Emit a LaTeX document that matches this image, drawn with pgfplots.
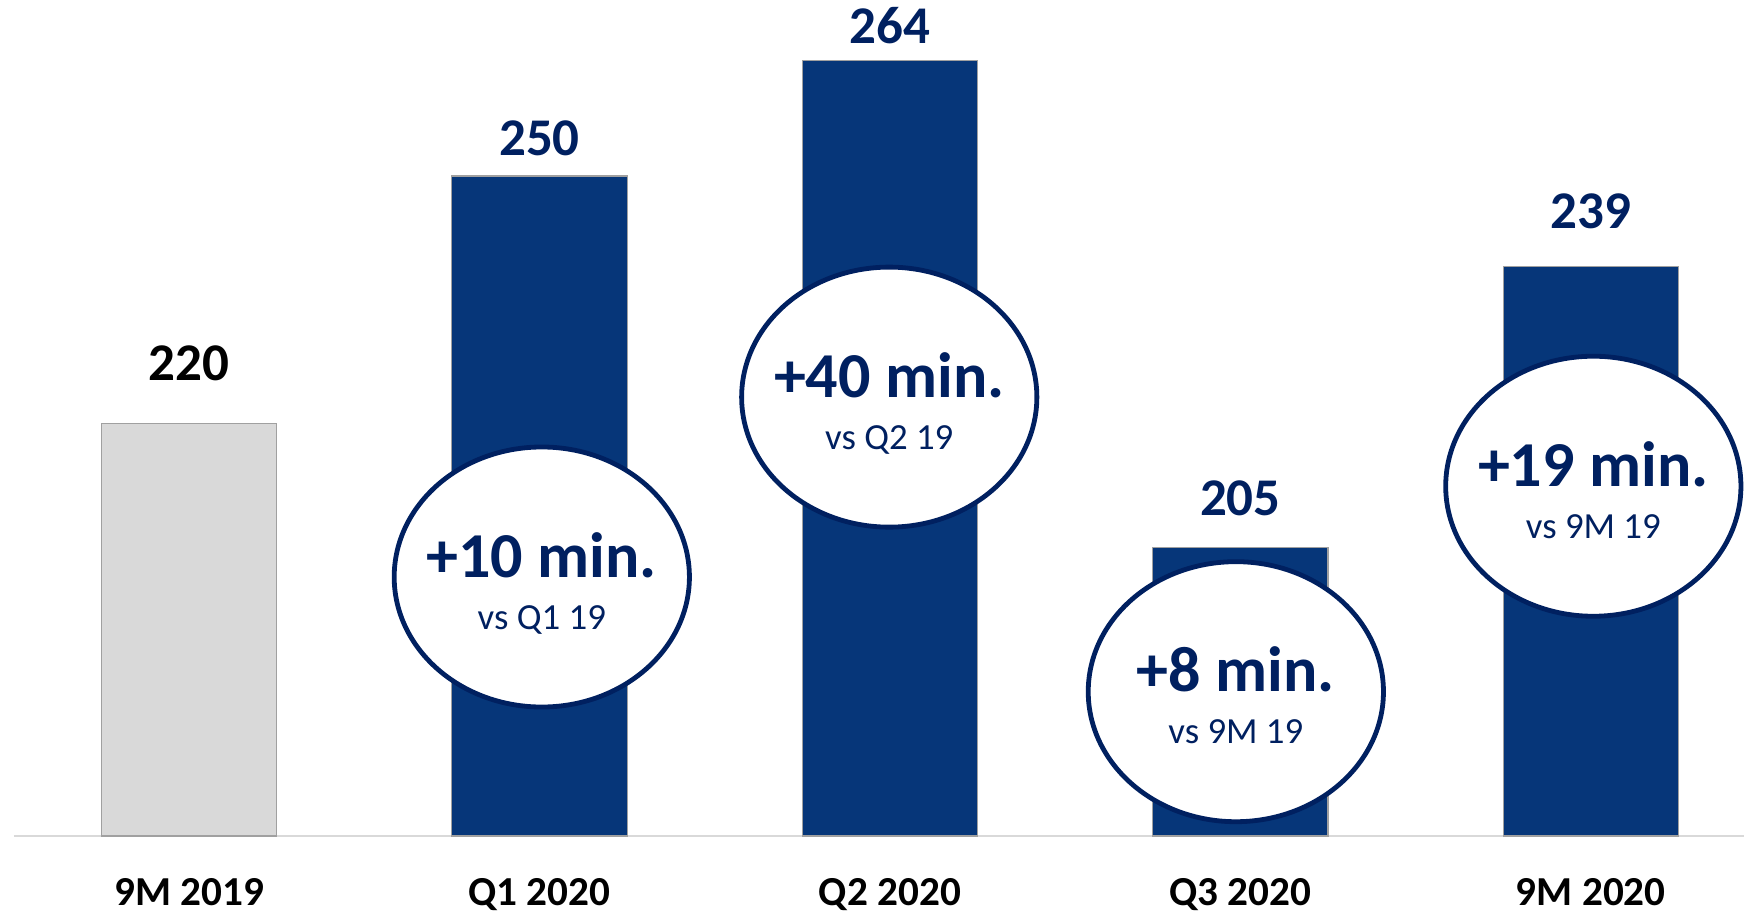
\documentclass[border=0pt]{standalone}
\usepackage{pgfplots}
\usepackage{pgfplotstable}
\pgfplotsset{compat=1.18}
\usepackage{fontspec}
\setmainfont{Carlito}
\definecolor{barnavy}{RGB}{6,54,121}
\definecolor{navytext}{RGB}{0,32,96}
\definecolor{bargray}{RGB}{217,217,217}
\definecolor{edgegray}{RGB}{160,160,160}
\definecolor{axisgray}{RGB}{217,217,217}

\pgfplotstableread{
x y gap
0 220 10.5
}\graydata
\pgfplotstableread{
x y gap
1 250 5
2 264 4
3 205 7.75
4 239 9.25
}\bluedata

\begin{document}
\begin{tikzpicture}
\begin{axis}[
  name=ax,
  scale only axis,
  width=432.5pt, height=209pt,
  xmin=-0.5, xmax=4.437,
  ymin=170, ymax=271.33,
  axis x line=bottom, axis y line=none,
  x axis line style={draw=axisgray, line width=0.55pt, -},
  xtick={0,1,2,3,4},
  xticklabels={9M 2019, Q1 2020, Q2 2020, Q3 2020, 9M 2020},
  major tick length=0pt,
  xticklabel style={font=\bfseries\fontsize{10.3}{12}\selectfont, text=black, anchor=base, yshift=-17.25pt, inner sep=0pt},
  ytick=\empty,
  /pgf/number format/assume math mode=true,
]
\addplot[ybar, bar shift=0pt, bar width=0.5, fill=bargray, draw=edgegray, line width=0.3pt,
  nodes near coords={\pgfmathprintnumber{\pgfplotspointmeta}},
  visualization depends on={\thisrow{gap}\as\gap},
  every node near coord/.append style={font=\bfseries\fontsize{13.25}{15}\selectfont, text=black, anchor=south, yshift=\gap pt, inner sep=0pt}]
  table[x=x, y=y] {\graydata};
\addplot[ybar, bar shift=0pt, bar width=0.5, fill=barnavy, draw=edgegray, line width=0.3pt,
  nodes near coords={\pgfmathprintnumber{\pgfplotspointmeta}},
  visualization depends on={\thisrow{gap}\as\gap},
  every node near coord/.append style={font=\bfseries\fontsize{13.25}{15}\selectfont, text=navytext, anchor=south, yshift=\gap pt, inner sep=0pt}]
  table[x=x, y=y] {\bluedata};
\coordinate (e1) at (axis cs:1.0066,201.4);
\coordinate (e2) at (axis cs:1.998,223.2);
\coordinate (e3) at (axis cs:2.987,187.5);
\coordinate (e4) at (axis cs:4.007,212.4);
\end{axis}
\pgfresetboundingbox
\path[use as bounding box] ([xshift=-3.45pt,yshift=-18.5pt]ax.south west) rectangle (ax.north east);
\foreach \e/\big/\small in {e1/{+10 min.}/{vs Q1 19}, e2/{+40 min.}/{vs Q2 19}, e3/{+8 min.}/{vs 9M 19}, e4/{+19 min.}/{vs 9M 19}}{
  \draw[draw=navytext, line width=1.2pt, fill=white] (\e) ellipse [x radius=36.9pt, y radius=32.5pt];
  \node[anchor=base, inner sep=0pt, text=navytext, font=\bfseries\fontsize{16}{19}\selectfont] at (\e) {\big};
  \node[anchor=base, inner sep=0pt, text=navytext, font=\fontsize{9.2}{11}\selectfont] at ([yshift=-13pt]\e) {\small};
}
\end{tikzpicture}
\end{document}
